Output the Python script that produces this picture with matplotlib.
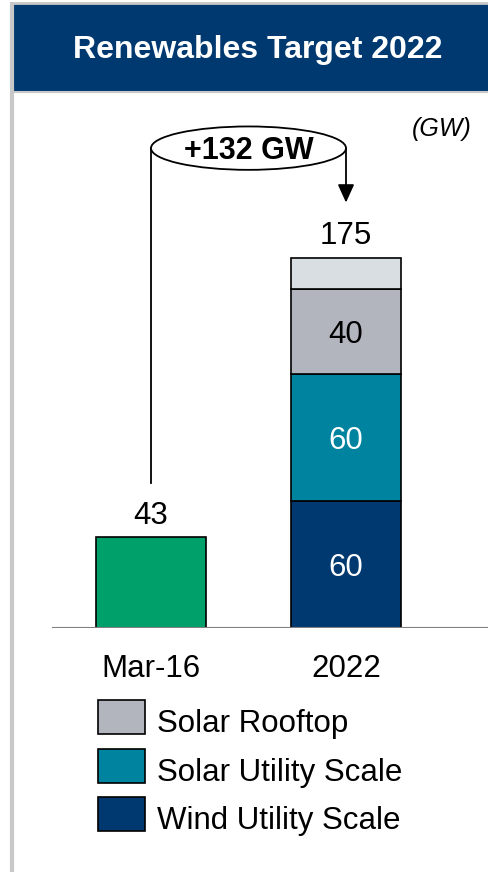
import matplotlib
matplotlib.use('Agg')
import matplotlib.pyplot as plt
from matplotlib.patches import Rectangle, Ellipse

plt.rcParams['font.family'] = ['Liberation Sans', 'DejaVu Sans']

# data (GW)
categories = ['Mar-16', '2022']
base_value = 43
seg_names = ['Wind Utility Scale', 'Solar Utility Scale', 'Solar Rooftop', 'Other']
seg_values = [60, 60, 40, 15]
seg_labels = ['60', '60', '40', '']
target_total = 175
legend_names = ['Solar Rooftop', 'Solar Utility Scale', 'Wind Utility Scale']

GREEN = '#00A06B'
NAVY = '#003870'
TEAL = '#00839F'
GREY = '#B2B5BD'
LIGHT = '#D9DEE2'
seg_colors = [NAVY, TEAL, GREY, LIGHT]
seg_text_colors = ['white', 'white', 'black', 'black']
legend_colors = [GREY, TEAL, NAVY]

W, H = 489, 872
fig = plt.figure(figsize=(W / 100, H / 100), dpi=100)


def px_axes(x0, y0, x1, y1, **kw):
    return fig.add_axes([x0 / W, 1 - y1 / H, (x1 - x0) / W, (y1 - y0) / H], **kw)


# background / frame / header / legend in pixel coords
bg = px_axes(0, 0, W, H, zorder=0)
bg.set_xlim(0, W)
bg.set_ylim(H, 0)
bg.axis('off')
bg.plot([12, 12], [2, H], color='#C8C8C8', lw=3, solid_capstyle='butt')
bg.plot([12, W], [3, 3], color='#C8C8C8', lw=2, solid_capstyle='butt')
bg.add_patch(Rectangle((14, 4), W - 14, 87, color=NAVY, lw=0))
bg.plot([14, W], [92, 92], color='#C8C8C8', lw=1.5)
bg.text(258, 50, 'Renewables Target 2022', color='white', fontsize=23,
        fontweight='bold', ha='center', va='center')
bg.text(442, 129, '(GW)', fontsize=18, style='italic', ha='center', va='center')

for i, (name, col) in enumerate(zip(legend_names, legend_colors)):
    top = 700 + i * 48.5
    bg.add_patch(Rectangle((98, top), 47, 34, facecolor=col, edgecolor='black', lw=1.2))
    bg.text(157, top + 32, name, fontsize=22.5, ha='left', va='baseline')

# main chart
px_per_gw = 127 / 60
ax = px_axes(52, 100, W, 628, zorder=1)
ax.patch.set_alpha(0)
ax.set_xlim(-(151 - 52) / 195, 1 + (489 - 346) / 195)
ax.set_ylim(0, 528 / px_per_gw)
bar_w = 110 / 195

ax.bar(0, base_value, width=bar_w, color=GREEN, edgecolor='black', lw=1.2, zorder=3)
ax.annotate(str(base_value), (0, base_value), xytext=(0, 9.5), textcoords='offset points',
            ha='center', va='baseline', fontsize=22.5)

bottom = 0
for val, col, lab, tcol in zip(seg_values, seg_colors, seg_labels, seg_text_colors):
    ax.bar(1, val, bottom=bottom, width=bar_w, color=col, edgecolor='black', lw=1.2, zorder=3)
    if lab:
        ax.text(1, bottom + val / 2, lab, color=tcol, fontsize=22.5,
                ha='center', va='center_baseline')
    bottom += val
ax.annotate(str(target_total), (1, target_total), xytext=(0, 9.5), textcoords='offset points',
            ha='center', va='baseline', fontsize=22.5)

ax.axhline(0, color='#808080', lw=1.5, zorder=4)

# growth annotation
top_y = 226.7
ax.plot([0, 0], [base_value + 25.5, top_y], color='black', lw=1.3, zorder=2)
ax.annotate('', xy=(1, target_total + 26), xytext=(1, top_y),
            arrowprops=dict(arrowstyle='-|>,head_length=1.1,head_width=0.5',
                            color='black', lw=1.3, shrinkA=0, shrinkB=0,
                            mutation_scale=10), zorder=2)
ax.add_patch(Ellipse((0.5, top_y), 1.0, 20.5, facecolor='white', edgecolor='black',
                     lw=1.3, zorder=5))
ax.text(0.5, top_y + 0.5, f'+{target_total - base_value} GW', fontsize=22, fontweight='bold',
        ha='center', va='center_baseline', zorder=6)

ax.set_xticks([0, 1], categories, fontsize=22.5)
ax.set_yticks([])
ax.tick_params(axis='x', length=0, pad=19)
for s in ax.spines.values():
    s.set_visible(False)

fig.savefig('out.png', dpi=100)
